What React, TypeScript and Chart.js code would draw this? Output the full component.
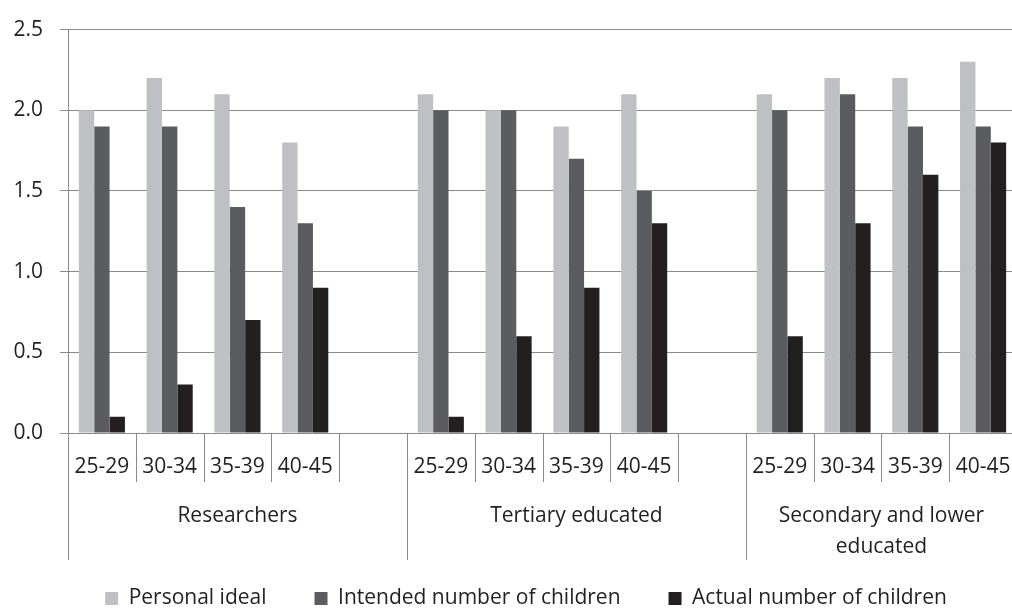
import React, { useEffect, useRef } from 'react';
import { Chart, registerables } from 'chart.js';

Chart.register(...registerables);

const seriesLabels = ['Personal ideal', 'Intended number of children', 'Actual number of children'];
const groupLines = [['Researchers'], ['Tertiary educated'], ['Secondary and lower', 'educated']];
const groupStarts = [0, 5, 10];
const groupEnds = [5, 10, 14];
const categories = [
  '25-29', '30-34', '35-39', '40-45', '',
  '25-29', '30-34', '35-39', '40-45', '',
  '25-29', '30-34', '35-39', '40-45',
];
const personalIdeal = [2.0, 2.2, 2.1, 1.8, null, 2.1, 2.0, 1.9, 2.1, null, 2.1, 2.2, 2.2, 2.3];
const intendedChildren = [1.9, 1.9, 1.4, 1.3, null, 2.0, 2.0, 1.7, 1.5, null, 2.0, 2.1, 1.9, 1.9];
const actualChildren = [0.1, 0.3, 0.7, 0.9, null, 0.1, 0.6, 0.9, 1.3, null, 0.6, 1.3, 1.6, 1.8];
const yMin = 0;
const yMax = 2.5;
const yStep = 0.5;

const colors = ['#bfc0c4', '#5b5c5f', '#231f20'];
const textColor = '#231f20';
const gridColor = '#8a8a8a';
const fontFamily = '"Open Sans", sans-serif';
const fontSize = 21;

const multiLevelAxis = {
  id: 'multiLevelAxis',
  afterLayout(chart: any) {
    // shift the legend so it is centred like the reference
    const lg = chart.legend;
    if (lg) {
      lg.left += 15;
      lg.right += 15;
    }
  },
  afterDraw(chart: any) {
    const { ctx, chartArea, scales } = chart;
    const xs = scales.x;
    const step = xs.getPixelForValue(1) - xs.getPixelForValue(0);
    const boundary = (b: number) => xs.getPixelForValue(0) - step / 2 + b * step;
    const bottom = chartArea.bottom;
    const crisp = (v: number) => Math.round(v) + 0.5;
    ctx.save();
    ctx.strokeStyle = gridColor;
    ctx.lineWidth = 1;
    for (let b = 0; b <= categories.length; b++) {
      const isGroupEdge = groupStarts.includes(b) || b === categories.length;
      const x = crisp(boundary(b));
      ctx.beginPath();
      ctx.moveTo(x, bottom);
      ctx.lineTo(x, bottom + (isGroupEdge ? 127 : 49));
      ctx.stroke();
    }
    ctx.fillStyle = textColor;
    ctx.font = `${fontSize}px ${fontFamily}`;
    ctx.textAlign = 'center';
    ctx.textBaseline = 'alphabetic';
    categories.forEach((c, i) => {
      if (!c) return;
      ctx.fillText(c, xs.getPixelForValue(i), bottom + 40);
    });
    groupLines.forEach((lines, g) => {
      const cx = (boundary(groupStarts[g]) + boundary(groupEnds[g])) / 2;
      lines.forEach((line, li) => {
        ctx.fillText(line, cx, bottom + 89 + li * 31);
      });
    });
    ctx.restore();
  },
};

export default function App() {
  const ref = useRef<HTMLCanvasElement>(null);
  useEffect(() => {
    const chart = new Chart(ref.current as HTMLCanvasElement, {
      type: 'bar',
      data: {
        labels: categories,
        datasets: [
          { label: seriesLabels[0], data: personalIdeal, backgroundColor: colors[0], borderWidth: 0 },
          { label: seriesLabels[1], data: intendedChildren, backgroundColor: colors[1], borderWidth: 0 },
          { label: seriesLabels[2], data: actualChildren, backgroundColor: colors[2], borderWidth: 0 },
        ],
      },
      options: {
        responsive: false,
        animation: false,
        devicePixelRatio: 1,
        layout: { padding: { top: 15, left: 5, right: 3, bottom: 0 } },
        datasets: { bar: { categoryPercentage: 0.68, barPercentage: 1 } },
        plugins: {
          legend: {
            position: 'bottom',
            labels: {
              boxWidth: 13,
              boxHeight: 13,
              padding: 48,
              color: textColor,
              font: { family: fontFamily, size: fontSize },
            },
          },
          tooltip: { enabled: false },
        },
        scales: {
          x: {
            grid: { display: false },
            border: { display: false },
            ticks: { display: false },
            afterFit: (s: any) => {
              s.height = 107;
            },
          },
          y: {
            min: yMin,
            max: yMax,
            afterFit: (s: any) => {
              s.width = 63;
            },
            ticks: {
              stepSize: yStep,
              padding: 17,
              color: textColor,
              font: { family: fontFamily, size: fontSize },
              callback: (v: any) => Number(v).toFixed(1),
            },
            grid: { color: gridColor, tickColor: gridColor, tickLength: 8, lineWidth: 1 },
            border: { display: true, color: gridColor },
          },
        },
      },
      plugins: [multiLevelAxis],
    } as any);
    return () => chart.destroy();
  }, []);
  return (
    <div
      style={{
        position: 'absolute',
        left: 0,
        top: 0,
        width: 1012,
        height: 610,
        overflow: 'hidden',
        background: '#ffffff',
      }}
    >
      <canvas ref={ref} width={1020} height={619} style={{ display: 'block', width: 1020, height: 619 }} />
    </div>
  );
}
